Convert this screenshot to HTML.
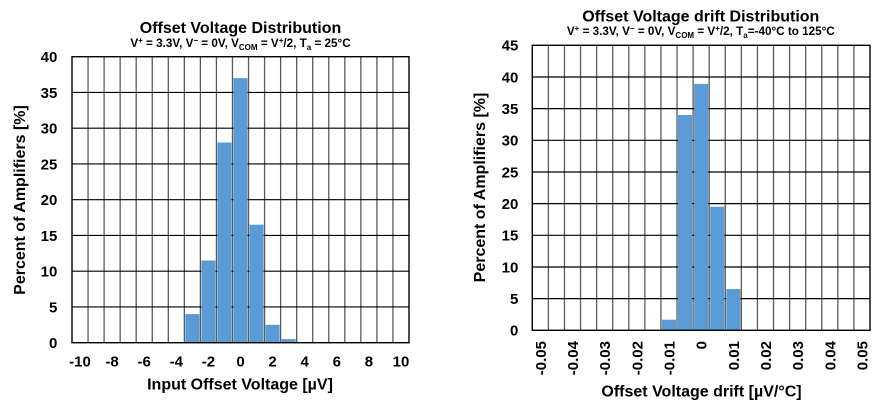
<!DOCTYPE html>
<html>
<head>
<meta charset="utf-8">
<style>
html,body{margin:0;padding:0;background:#fff;}
svg{display:block;}
text{font-family:"Liberation Sans",Arial,sans-serif;font-weight:bold;fill:#000;}
.t{font-size:16px;}
.s{font-size:11.7px;}
.k{font-size:15px;}
.a{font-size:16px;}
.vg{stroke:#5a5a5a;stroke-width:1.3;}
.hg{stroke:#000;stroke-width:1.2;}
.bar{fill:#5b9bd5;}
</style>
</head>
<body>
<svg width="876" height="410" viewBox="0 0 876 410" xmlns="http://www.w3.org/2000/svg">
<rect width="876" height="410" fill="#fff"/>

<!-- LEFT CHART -->
<text class="t" x="240.5" y="33" text-anchor="middle">Offset Voltage Distribution</text>
<text class="s" x="240.5" y="47" text-anchor="middle">V<tspan font-size="8" dy="-4">+</tspan><tspan dy="4"> = 3.3V, V</tspan><tspan font-size="8" dy="-4">−</tspan><tspan dy="4"> = 0V, V</tspan><tspan font-size="8" dy="3">COM</tspan><tspan dy="-3"> = V</tspan><tspan font-size="8" dy="-4">+</tspan><tspan dy="4">/2, T</tspan><tspan font-size="8" dy="3">a</tspan><tspan dy="-3"> = 25°C</tspan></text>

<g>
<line class="vg" x1="88.05" y1="56.7" x2="88.05" y2="342.7"/>
<line class="vg" x1="104.10" y1="56.7" x2="104.10" y2="342.7"/>
<line class="vg" x1="120.14" y1="56.7" x2="120.14" y2="342.7"/>
<line class="vg" x1="136.19" y1="56.7" x2="136.19" y2="342.7"/>
<line class="vg" x1="152.24" y1="56.7" x2="152.24" y2="342.7"/>
<line class="vg" x1="168.29" y1="56.7" x2="168.29" y2="342.7"/>
<line class="vg" x1="184.34" y1="56.7" x2="184.34" y2="342.7"/>
<line class="vg" x1="200.38" y1="56.7" x2="200.38" y2="342.7"/>
<line class="vg" x1="216.43" y1="56.7" x2="216.43" y2="342.7"/>
<line class="vg" x1="232.48" y1="56.7" x2="232.48" y2="342.7"/>
<line class="vg" x1="248.53" y1="56.7" x2="248.53" y2="342.7"/>
<line class="vg" x1="264.58" y1="56.7" x2="264.58" y2="342.7"/>
<line class="vg" x1="280.62" y1="56.7" x2="280.62" y2="342.7"/>
<line class="vg" x1="296.67" y1="56.7" x2="296.67" y2="342.7"/>
<line class="vg" x1="312.72" y1="56.7" x2="312.72" y2="342.7"/>
<line class="vg" x1="328.77" y1="56.7" x2="328.77" y2="342.7"/>
<line class="vg" x1="344.82" y1="56.7" x2="344.82" y2="342.7"/>
<line class="vg" x1="360.86" y1="56.7" x2="360.86" y2="342.7"/>
<line class="vg" x1="376.91" y1="56.7" x2="376.91" y2="342.7"/>
<line class="vg" x1="392.96" y1="56.7" x2="392.96" y2="342.7"/>

<line class="hg" x1="72" y1="92.45" x2="409" y2="92.45"/>
<line class="hg" x1="72" y1="128.2" x2="409" y2="128.2"/>
<line class="hg" x1="72" y1="163.95" x2="409" y2="163.95"/>
<line class="hg" x1="72" y1="199.7" x2="409" y2="199.7"/>
<line class="hg" x1="72" y1="235.45" x2="409" y2="235.45"/>
<line class="hg" x1="72" y1="271.2" x2="409" y2="271.2"/>
<line class="hg" x1="72" y1="306.95" x2="409" y2="306.95"/>

<rect class="bar" x="185.34" y="314.1" width="14.05" height="28.6"/>
<rect class="bar" x="201.38" y="260.5" width="14.05" height="82.2"/>
<rect class="bar" x="217.43" y="142.5" width="14.05" height="200.2"/>
<rect class="bar" x="233.48" y="78.15" width="14.05" height="264.55"/>
<rect class="bar" x="249.53" y="224.7" width="14.05" height="118"/>
<rect class="bar" x="265.58" y="324.8" width="14.05" height="17.9"/>
<rect class="bar" x="281.62" y="339.1" width="14.05" height="3.6"/>

<rect x="72" y="56.7" width="337" height="286" fill="none" stroke="#000" stroke-width="1.4"/>
</g>

<g class="k" text-anchor="end">
<text class="k" x="57.3" y="62.1">40</text>
<text class="k" x="57.3" y="97.85">35</text>
<text class="k" x="57.3" y="133.6">30</text>
<text class="k" x="57.3" y="169.35">25</text>
<text class="k" x="57.3" y="205.1">20</text>
<text class="k" x="57.3" y="240.85">15</text>
<text class="k" x="57.3" y="276.6">10</text>
<text class="k" x="57.3" y="312.35">5</text>
<text class="k" x="57.3" y="348.1">0</text>
</g>
<g text-anchor="middle">
<text class="k" x="80.02" y="366.7">-10</text>
<text class="k" x="112.12" y="366.7">-8</text>
<text class="k" x="144.21" y="366.7">-6</text>
<text class="k" x="176.31" y="366.7">-4</text>
<text class="k" x="208.41" y="366.7">-2</text>
<text class="k" x="240.5" y="366.7">0</text>
<text class="k" x="272.6" y="366.7">2</text>
<text class="k" x="304.7" y="366.7">4</text>
<text class="k" x="336.8" y="366.7">6</text>
<text class="k" x="368.9" y="366.7">8</text>
<text class="k" x="400.98" y="366.7">10</text>
</g>
<text class="a" x="240" y="389.5" text-anchor="middle">Input Offset Voltage [µV]</text>
<text class="a" transform="translate(25,200) rotate(-90)" text-anchor="middle">Percent of Amplifiers [%]</text>

<!-- RIGHT CHART -->
<text class="t" x="700.8" y="21.5" text-anchor="middle">Offset Voltage drift Distribution</text>
<text class="s" x="700.8" y="35" text-anchor="middle">V<tspan font-size="8" dy="-4">+</tspan><tspan dy="4"> = 3.3V, V</tspan><tspan font-size="8" dy="-4">−</tspan><tspan dy="4"> = 0V, V</tspan><tspan font-size="8" dy="3">COM</tspan><tspan dy="-3"> = V</tspan><tspan font-size="8" dy="-4">+</tspan><tspan dy="4">/2, T</tspan><tspan font-size="8" dy="3">a</tspan><tspan dy="-3">=-40°C to 125°C</tspan></text>

<g>
<line class="vg" x1="548.38" y1="45.3" x2="548.38" y2="330.3"/>
<line class="vg" x1="564.46" y1="45.3" x2="564.46" y2="330.3"/>
<line class="vg" x1="580.54" y1="45.3" x2="580.54" y2="330.3"/>
<line class="vg" x1="596.62" y1="45.3" x2="596.62" y2="330.3"/>
<line class="vg" x1="612.71" y1="45.3" x2="612.71" y2="330.3"/>
<line class="vg" x1="628.79" y1="45.3" x2="628.79" y2="330.3"/>
<line class="vg" x1="644.87" y1="45.3" x2="644.87" y2="330.3"/>
<line class="vg" x1="660.95" y1="45.3" x2="660.95" y2="330.3"/>
<line class="vg" x1="677.03" y1="45.3" x2="677.03" y2="330.3"/>
<line class="vg" x1="693.11" y1="45.3" x2="693.11" y2="330.3"/>
<line class="vg" x1="709.19" y1="45.3" x2="709.19" y2="330.3"/>
<line class="vg" x1="725.27" y1="45.3" x2="725.27" y2="330.3"/>
<line class="vg" x1="741.35" y1="45.3" x2="741.35" y2="330.3"/>
<line class="vg" x1="757.43" y1="45.3" x2="757.43" y2="330.3"/>
<line class="vg" x1="773.52" y1="45.3" x2="773.52" y2="330.3"/>
<line class="vg" x1="789.60" y1="45.3" x2="789.60" y2="330.3"/>
<line class="vg" x1="805.68" y1="45.3" x2="805.68" y2="330.3"/>
<line class="vg" x1="821.76" y1="45.3" x2="821.76" y2="330.3"/>
<line class="vg" x1="837.84" y1="45.3" x2="837.84" y2="330.3"/>
<line class="vg" x1="853.92" y1="45.3" x2="853.92" y2="330.3"/>

<line class="hg" x1="532.3" y1="77" x2="870" y2="77"/>
<line class="hg" x1="532.3" y1="108.65" x2="870" y2="108.65"/>
<line class="hg" x1="532.3" y1="140.3" x2="870" y2="140.3"/>
<line class="hg" x1="532.3" y1="171.97" x2="870" y2="171.97"/>
<line class="hg" x1="532.3" y1="203.63" x2="870" y2="203.63"/>
<line class="hg" x1="532.3" y1="235.3" x2="870" y2="235.3"/>
<line class="hg" x1="532.3" y1="266.97" x2="870" y2="266.97"/>
<line class="hg" x1="532.3" y1="298.63" x2="870" y2="298.63"/>

<rect class="bar" x="661.95" y="319.7" width="14.08" height="10.6"/>
<rect class="bar" x="678.03" y="115" width="14.08" height="215.3"/>
<rect class="bar" x="694.11" y="83.9" width="14.08" height="246.4"/>
<rect class="bar" x="710.19" y="206.8" width="14.08" height="123.5"/>
<rect class="bar" x="726.27" y="289.1" width="14.08" height="41.2"/>

<rect x="532.3" y="45.3" width="337.7" height="285" fill="none" stroke="#000" stroke-width="1.4"/>
</g>

<g text-anchor="end">
<text class="k" x="518.3" y="50.7">45</text>
<text class="k" x="518.3" y="82.4">40</text>
<text class="k" x="518.3" y="114.05">35</text>
<text class="k" x="518.3" y="145.7">30</text>
<text class="k" x="518.3" y="177.37">25</text>
<text class="k" x="518.3" y="209.03">20</text>
<text class="k" x="518.3" y="240.7">15</text>
<text class="k" x="518.3" y="272.37">10</text>
<text class="k" x="518.3" y="304.03">5</text>
<text class="k" x="518.3" y="335.7">0</text>
</g>
<g text-anchor="end">
<text class="k" transform="translate(545.84,341) rotate(-90)">-0.05</text>
<text class="k" transform="translate(578.0,341) rotate(-90)">-0.04</text>
<text class="k" transform="translate(610.16,341) rotate(-90)">-0.03</text>
<text class="k" transform="translate(642.33,341) rotate(-90)">-0.02</text>
<text class="k" transform="translate(674.49,341) rotate(-90)">-0.01</text>
<text class="k" transform="translate(706.65,341) rotate(-90)">0</text>
<text class="k" transform="translate(738.81,341) rotate(-90)">0.01</text>
<text class="k" transform="translate(770.97,341) rotate(-90)">0.02</text>
<text class="k" transform="translate(803.14,341) rotate(-90)">0.03</text>
<text class="k" transform="translate(835.3,341) rotate(-90)">0.04</text>
<text class="k" transform="translate(867.46,341) rotate(-90)">0.05</text>
</g>
<text class="a" x="701.5" y="396.5" text-anchor="middle">Offset Voltage drift [µV/°C]</text>
<text class="a" transform="translate(485,187.5) rotate(-90)" text-anchor="middle">Percent of Amplifiers [%]</text>
</svg>
</body>
</html>
